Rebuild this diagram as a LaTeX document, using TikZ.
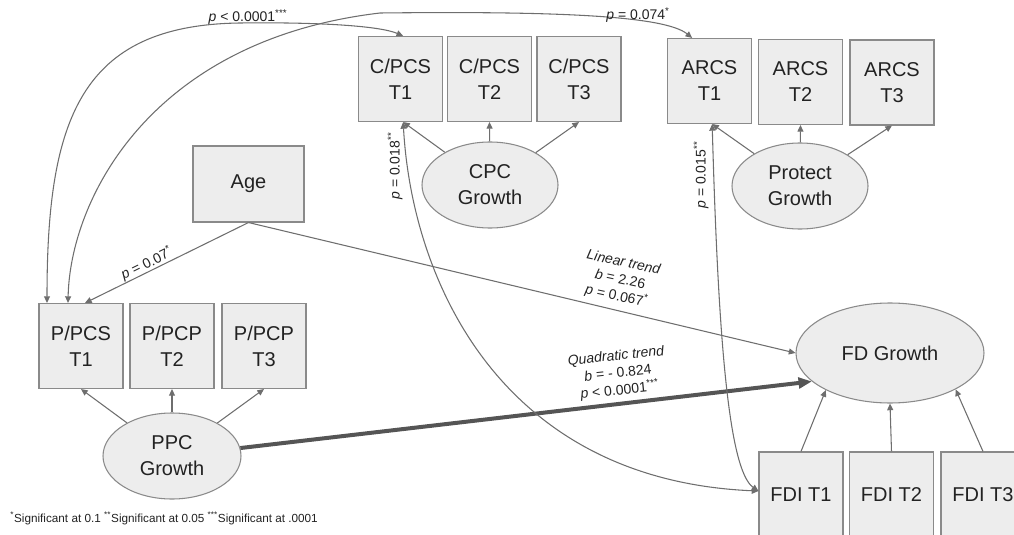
\documentclass[tikz,border=0pt]{standalone}
\usepackage{fontspec}
\setmainfont{Liberation Sans}
\usetikzlibrary{arrows.meta,shapes.geometric,calc}
\definecolor{boxfill}{HTML}{EDEDED}
\definecolor{boxline}{HTML}{8A8A8A}
\definecolor{conn}{HTML}{6E6E6E}
\definecolor{thickc}{HTML}{555555}
\definecolor{txt}{HTML}{222222}
\begin{document}
\begin{tikzpicture}[x=0.75pt,y=-0.75pt,
  box/.style={draw=boxline, fill=boxfill, line width=0.8pt, minimum width=63pt, minimum height=63.75pt, inner sep=0pt, align=center, font=\fontsize{15}{19.5}\selectfont, text=txt},
  lat/.style={ellipse, draw=boxline, fill=boxfill, line width=0.8pt, inner sep=0pt, align=center, font=\fontsize{15}{19.5}\selectfont, text=txt},
  arr/.style={draw=conn, line width=0.8pt, -{Triangle[length=5pt,width=4.5pt]}},
  darr/.style={draw=conn, line width=0.8pt, {Triangle[length=5pt,width=4.5pt]}-{Triangle[length=5pt,width=4.5pt]}},
  bigarr/.style={draw=thickc, line width=3pt, -{Triangle[length=10pt,width=8pt]}},
  lab/.style={font=\fontsize{10.5}{13}\selectfont, text=txt, inner sep=0pt, align=center}
]
\useasboundingbox (0,0) rectangle (1014,535);

% indicator boxes
\node[box] (cpc1) at (400.5,79) {C/PCS\\T1};
\node[box] (cpc2) at (489.5,79) {C/PCS\\T2};
\node[box] (cpc3) at (579,79) {C/PCS\\T3};
\node[box] (arcs1) at (709.5,81) {ARCS\\T1};
\node[box] (arcs2) at (800.5,82) {ARCS\\T2};
\node[box] (arcs3) at (892,82.5) {ARCS\\T3};
\node[box, minimum width=83.25pt, minimum height=57pt] (age) at (248.5,184) {Age};
\node[box] (p1) at (81,346) {P/PCS\\T1};
\node[box] (p2) at (172,346) {P/PCP\\T2};
\node[box] (p3) at (264,346) {P/PCP\\T3};
\node[box] (fdi1) at (801,494.5) {FDI T1};
\node[box] (fdi2) at (891.5,494.5) {FDI T2};
\node[box] (fdi3) at (983,494.5) {FDI T3};

% latent growth factors
\node[lat, minimum width=103.5pt, minimum height=64.5pt] (ppc) at (172,456) {PPC\\Growth};
\node[lat, minimum width=102pt, minimum height=64.5pt] (cpcg) at (490,185) {CPC\\Growth};
\node[lat, minimum width=102pt, minimum height=64.5pt] (protg) at (800,186) {Protect\\Growth};
\node[lat, minimum width=141pt, minimum height=75pt] (fd) at (890,353) {FD Growth};

% measurement arrows
\draw[arr] (ppc) -- (p1.south);
\draw[arr] (ppc) -- (p2.south);
\draw[arr] (ppc) -- (p3.south);
\draw[arr] (cpcg) -- ([xshift=2pt]cpc1.south);
\draw[arr] (cpcg) -- (cpc2.south);
\draw[arr] (cpcg) -- (cpc3.south);
\draw[arr] (protg) -- ([xshift=2pt]arcs1.south);
\draw[arr] (protg) -- (arcs2.south);
\draw[arr] (protg) -- (arcs3.south);
\draw[arr] (fdi1.north) -- (fd.-150);
\draw[arr] (fdi2.north) -- (fd.south);
\draw[arr] (fdi3.north) -- (fd.-29);

% structural paths
\draw[arr] (age.south) -- node[lab, sloped, above, pos=0.6] {\textit{p} = 0.07\textsuperscript{*}} ([xshift=3pt]p1.north);
\draw[arr] (age.south) -- (fd.west);
\draw[bigarr] (ppc) -- (fd.200);

% covariances
\draw[darr] ([xshift=-25.5pt]p1.north) .. controls (47,120) and (80,25) .. (240,23) .. controls (320,22) and (380,26) .. ([xshift=2pt]cpc1.north);
\draw[darr] ([xshift=-9.75pt]p1.north) .. controls (70,200) and (150,40) .. (380,13) .. controls (560,11) and (665,16) .. ([xshift=-13pt]arcs1.north);
\draw[darr] ([xshift=2pt]cpc1.south) .. controls (412,280) and (500,480) .. ([yshift=2.6pt]fdi1.west);
\draw[darr] ([xshift=2pt]arcs1.south) .. controls (718,330) and (728,470) .. ([yshift=2.6pt]fdi1.west);

% labels
\node[lab] (l1) at (248,17) {\textit{p} < 0.0001\textsuperscript{***}};
\node[lab] (l2) at (638,15) {\textit{p} = 0.074\textsuperscript{*}};
\node[lab, rotate=90] (l3) at (395,166) {\textit{p} = 0.018\textsuperscript{**}};
\node[lab, rotate=90] (l4) at (701,175) {\textit{p} = 0.015\textsuperscript{**}};
\node[lab, rotate=-12] (lin) at (620,280) {\textit{Linear trend}\\\textit{b} = 2.26\\\textit{p} = 0.067\textsuperscript{*}};
\node[lab, rotate=6] (quad) at (618,374) {\textit{Quadratic trend}\\\textit{b} = - 0.824\\\textit{p} < 0.0001\textsuperscript{***}};
\node[font=\fontsize{8.8}{10}\selectfont, text=txt, anchor=west, inner sep=0pt] (note) at (10,518) {\textsuperscript{*}Significant at 0.1 \textsuperscript{**}Significant at 0.05 \textsuperscript{***}Significant at .0001};
\end{tikzpicture}
\end{document}
